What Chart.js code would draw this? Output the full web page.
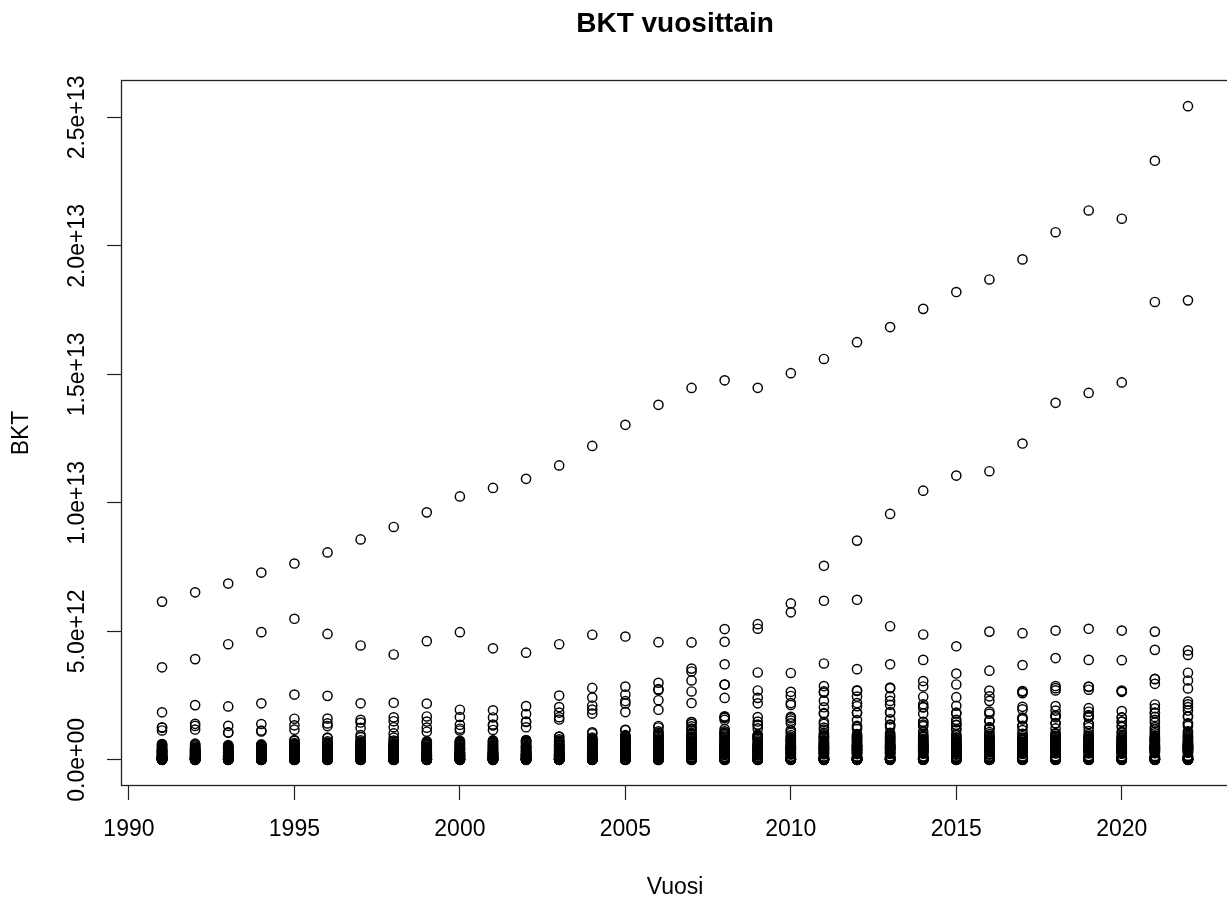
<!DOCTYPE html>
<html>
<head>
<meta charset="utf-8">
<title>BKT vuosittain</title>
<script src="https://cdn.jsdelivr.net/npm/chart.js@4"></script>
<style>
  html, body { margin: 0; padding: 0; background: #fff; overflow: hidden; }
</style>
</head>
<body>
<canvas id="kaavio" width="1240" height="904"></canvas>
<script>
// arvot miljardeina dollareina
const vuodet = [1991, 1992, 1993, 1994, 1995, 1996, 1997, 1998, 1999, 2000, 2001, 2002, 2003, 2004, 2005, 2006,
  2007, 2008, 2009, 2010, 2011, 2012, 2013, 2014, 2015, 2016, 2017, 2018, 2019, 2020, 2021, 2022];

const usa = [6158, 6520, 6859, 7287, 7640, 8073, 8578, 9063, 9631, 10251, 10582, 10936, 11458, 12217, 13039, 13816,
  14474, 14770, 14478, 15049, 15600, 16254, 16843, 17551, 18206, 18695, 19477, 20533, 21381, 21060, 23315, 25440];
const kiina = [383, 427, 445, 564, 734, 864, 962, 1029, 1094, 1211, 1339, 1471, 1660, 1955, 2286, 2752,
  3550, 4594, 5102, 6087, 7552, 8532, 9570, 10476, 11062, 11233, 12310, 13895, 14280, 14688, 17820, 17882];
const japani = [3600, 3920, 4500, 4970, 5490, 4900, 4450, 4100, 4620, 4968, 4340, 4170, 4500, 4870, 4800, 4580,
  4570, 5090, 5280, 5740, 6190, 6230, 5200, 4880, 4420, 4990, 4930, 5030, 5100, 5030, 4990, 4260];
const saksa = [1850, 2130, 2080, 2200, 2540, 2490, 2200, 2220, 2190, 1950, 1930, 2090, 2500, 2800, 2850, 3000,
  3440, 3720, 3400, 3380, 3750, 3530, 3720, 3890, 3360, 3470, 3690, 3960, 3890, 3880, 4280, 4085];
const britannia = [1142, 1179, 1061, 1140, 1344, 1419, 1560, 1653, 1688, 1666, 1649, 1785, 2054, 2422, 2543, 2709,
  3090, 2929, 2412, 2485, 2664, 2707, 2785, 3065, 2933, 2695, 2676, 2872, 2851, 2697, 3141, 3089];
const ranska = [1270, 1402, 1323, 1394, 1601, 1605, 1452, 1503, 1492, 1362, 1377, 1494, 1840, 2116, 2196, 2320,
  2660, 2930, 2700, 2646, 2870, 2683, 2811, 2856, 2439, 2472, 2595, 2790, 2729, 2647, 2958, 2780];
const italia = [1250, 1320, 1067, 1104, 1174, 1313, 1242, 1270, 1253, 1142, 1162, 1267, 1570, 1801, 1858, 1948,
  2211, 2410, 2200, 2136, 2295, 2087, 2141, 2162, 1836, 1877, 1962, 2092, 2011, 1897, 2155, 2050];
const intia = [270, 288, 279, 327, 360, 393, 416, 421, 458, 468, 485, 515, 608, 709, 820, 940,
  1217, 1199, 1342, 1676, 1823, 1828, 1857, 2039, 2104, 2295, 2651, 2703, 2836, 2672, 3150, 3390];
const brasilia = [602, 400, 438, 558, 769, 850, 883, 864, 599, 655, 559, 507, 558, 669, 892, 1108,
  1397, 1696, 1667, 2209, 2616, 2465, 2473, 2456, 1802, 1796, 2064, 1917, 1873, 1476, 1670, 1920];
const kanada = [612, 594, 579, 579, 605, 630, 654, 634, 678, 744, 739, 760, 896, 1026, 1173, 1319,
  1468, 1553, 1375, 1617, 1793, 1828, 1847, 1806, 1556, 1528, 1649, 1725, 1743, 1655, 2007, 2162];
const venaja = [518, 460, 435, 395, 395, 392, 405, 271, 196, 260, 307, 345, 430, 591, 764, 990,
  1300, 1661, 1223, 1525, 2046, 2208, 2292, 2059, 1363, 1277, 1574, 1657, 1693, 1489, 1837, 2266];
const korea = [330, 356, 392, 463, 566, 610, 570, 383, 497, 576, 547, 627, 703, 793, 934, 1053,
  1172, 1047, 944, 1144, 1253, 1278, 1370, 1484, 1466, 1500, 1623, 1725, 1651, 1644, 1818, 1674];
const espanja = [575, 630, 525, 529, 612, 642, 590, 619, 635, 598, 628, 709, 907, 1069, 1157, 1260,
  1474, 1631, 1491, 1422, 1480, 1324, 1355, 1371, 1196, 1233, 1312, 1421, 1394, 1277, 1447, 1418];
const australia = [326, 325, 312, 323, 368, 401, 436, 399, 389, 416, 379, 395, 467, 614, 694, 747,
  853, 1055, 928, 1148, 1398, 1547, 1577, 1468, 1351, 1208, 1326, 1428, 1392, 1327, 1553, 1693];
const meksiko = [314, 363, 501, 527, 360, 411, 500, 527, 600, 708, 756, 772, 729, 782, 877, 975,
  1053, 1109, 900, 1058, 1180, 1201, 1274, 1315, 1172, 1078, 1159, 1222, 1269, 1090, 1273, 1414];
const indonesia = [116, 128, 158, 177, 202, 227, 215, 95, 140, 165, 160, 196, 235, 257, 286, 365,
  432, 510, 540, 755, 893, 918, 913, 891, 861, 932, 1016, 1043, 1119, 1059, 1187, 1319];
const alankomaat = [320, 350, 340, 366, 452, 451, 417, 436, 447, 413, 429, 467, 577, 658, 686, 733,
  848, 953, 870, 847, 905, 839, 877, 892, 766, 784, 834, 914, 910, 909, 1029, 1009];

// muut maat vuosittain (1991 ... 2022)
const muut = [
  [0.4, 1, 2, 3, 4.5, 6, 8, 10, 13, 16, 20, 25, 30, 35, 40, 46, 50, 53, 63, 75, 86, 92, 98, 105, 120, 126, 137, 150, 160, 173, 190, 215, 235, 257, 270, 300, 340, 360, 400, 430, 460, 490, 540],
  [0.4, 1, 2, 3, 4.5, 6, 8, 10, 13, 16, 20, 25, 30, 35, 41, 47, 53, 58, 73, 84, 94, 100, 108, 111, 115, 130, 137, 150, 159, 175, 195, 210, 229, 232, 250, 270, 280, 300, 320, 380, 410, 430, 480, 520, 560],
  [0.4, 1, 2, 3, 4.5, 6, 8, 10, 13, 16, 20, 25, 30, 36, 42, 48, 54, 60, 75, 87, 94, 96, 108, 116, 120, 125, 133, 141, 160, 180, 190, 208, 220, 237, 260, 280, 300, 360, 380, 410, 470, 490, 540],
  [0.4, 1, 2, 3, 4.5, 6, 8, 10, 13, 16, 20, 25, 31, 37, 43, 49, 56, 62, 73, 80, 87, 99, 100, 110, 119, 127, 130, 135, 140, 144, 155, 180, 204, 226, 238, 257, 290, 300, 345, 370, 410, 440, 490, 545, 600],
  [0.4, 1, 2, 3, 4.5, 6, 8, 10, 13, 16, 21, 26, 32, 38, 44, 51, 58, 65, 77, 87, 89, 100, 110, 118, 131, 137, 143, 144, 151, 152, 169, 170, 185, 210, 239, 258, 266, 287, 310, 342, 360, 400, 430, 480, 510, 540, 590, 650],
  [0.4, 1, 2, 3, 4.5, 6, 8, 10, 13, 17, 21, 26, 32, 38, 45, 52, 59, 66, 79, 90, 100, 105, 115, 121, 140, 145, 152, 158, 160, 165, 181, 184, 190, 210, 237, 268, 277, 282, 330, 350, 370, 420, 470, 520, 560, 590, 660, 720],
  [0.4, 1, 2, 3, 4.5, 6, 8, 10, 13, 17, 21, 26, 32, 38, 45, 52, 59, 67, 80, 92, 100, 110, 117, 122, 147, 150, 160, 165, 171, 177, 190, 206, 228, 250, 265, 270, 293, 310, 350, 380, 440, 470, 520, 540, 610, 700, 760],
  [0.4, 1, 2, 3, 4.5, 6, 8, 10, 13, 17, 21, 26, 32, 38, 45, 52, 59, 67, 72, 82, 92, 100, 113, 120, 137, 143, 145, 150, 170, 176, 190, 212, 235, 256, 273, 275, 299, 320, 350, 370, 400, 470, 490, 550, 580, 700, 750],
  [0.4, 1, 2, 3, 4.5, 6, 8, 10, 13, 17, 21, 26, 32, 38, 45, 52, 60, 68, 80, 86, 98, 107, 123, 126, 137, 160, 163, 168, 172, 180, 188, 211, 230, 250, 262, 279, 283, 300, 340, 360, 420, 480, 520, 560, 680, 720],
  [0.4, 1, 2, 3, 4.5, 6, 8, 10, 13, 17, 21, 27, 33, 39, 46, 53, 61, 69, 94, 100, 104, 118, 126, 133, 136, 170, 171, 172, 187, 197, 200, 232, 258, 262, 272, 274, 284, 300, 340, 360, 380, 440, 470, 500, 540, 630, 690],
  [0.4, 1, 2, 3, 4.5, 6, 8, 10, 13, 17, 21, 27, 33, 39, 46, 54, 62, 70, 93, 104, 108, 120, 121, 127, 142, 169, 171, 172, 183, 196, 200, 232, 233, 253, 257, 269, 280, 300, 320, 360, 390, 450, 500, 580, 660, 690],
  [0.4, 1, 2, 3, 4.5, 6, 8, 10, 13, 17, 22, 27, 33, 40, 47, 55, 63, 72, 98, 102, 116, 123, 128, 135, 143, 166, 177, 190, 192, 196, 211, 237, 248, 276, 300, 314, 330, 370, 420, 440, 490, 540, 580, 650, 690, 740],
  [0.4, 1, 2, 3, 5, 6.5, 8.5, 11, 14, 18, 23, 29, 35, 42, 50, 58, 67, 77, 110, 112, 128, 131, 155, 172, 178, 190, 208, 217, 219, 237, 282, 295, 314, 315, 352, 360, 380, 400, 430, 480, 520, 560, 600, 660, 740, 800],
  [0.4, 1, 2, 3, 5, 7, 9, 12, 15, 19, 24, 30, 37, 45, 53, 62, 72, 83, 120, 122, 137, 152, 170, 190, 220, 228, 230, 250, 258, 268, 314, 362, 368, 392, 405, 420, 450, 480, 520, 550, 600, 640, 700, 740, 830, 870],
  [0.4, 1.1, 2.2, 3.4, 5.5, 7.5, 10, 13, 16, 20, 26, 32, 40, 48, 57, 67, 78, 90, 140, 143, 154, 169, 181, 189, 230, 247, 250, 262, 265, 315, 329, 385, 391, 405, 408, 430, 450, 483, 506, 530, 560, 600, 640, 680, 730, 780, 820, 960],
  [0.4, 1.2, 2.4, 3.7, 6, 8, 11, 14, 18, 22, 28, 35, 43, 52, 62, 73, 85, 98, 146, 155, 162, 184, 204, 208, 222, 261, 275, 284, 308, 345, 377, 378, 399, 409, 430, 465, 490, 510, 530, 558, 600, 640, 680, 720, 800, 850, 900],
  [0.5, 1.3, 2.6, 4, 6.5, 9, 12, 15, 19, 24, 30, 38, 47, 57, 68, 80, 93, 108, 170, 180, 207, 222, 242, 262, 299, 310, 325, 340, 387, 400, 425, 430, 470, 490, 500, 530, 560, 590, 625, 660, 681, 720, 760, 800, 900, 970, 1010],
  [0.5, 1.4, 2.8, 4.3, 7, 10, 13, 16, 21, 26, 33, 41, 51, 62, 74, 87, 102, 118, 180, 214, 229, 254, 284, 287, 315, 345, 352, 355, 380, 410, 430, 450, 470, 485, 515, 520, 540, 555, 580, 610, 640, 700, 730, 764, 800, 846, 900, 1000],
  [0.5, 1.4, 2.8, 4.3, 7, 10, 13, 16, 21, 26, 33, 41, 51, 62, 74, 87, 102, 118, 168, 196, 210, 245, 254, 287, 311, 333, 337, 369, 375, 385, 392, 400, 428, 436, 450, 471, 480, 500, 543, 580, 610, 645, 700, 760, 820, 850, 900, 980],
  [0.5, 1.5, 3, 4.6, 7.5, 10.5, 14, 17, 22, 28, 35, 44, 55, 66, 79, 93, 109, 126, 210, 218, 236, 255, 287, 289, 340, 341, 375, 388, 418, 420, 425, 450, 470, 476, 489, 500, 528, 560, 584, 620, 650, 700, 730, 777, 820, 900, 960],
  [0.5, 1.6, 3.2, 5, 8, 11, 15, 18, 24, 30, 38, 47, 58, 70, 84, 99, 116, 134, 219, 232, 251, 280, 300, 335, 351, 370, 404, 417, 431, 450, 470, 490, 514, 530, 550, 563, 600, 628, 650, 671, 710, 750, 770, 838, 870, 950, 990, 1050],
  [0.5, 1.6, 3.2, 5, 8, 11, 15, 18, 24, 30, 38, 47, 58, 70, 84, 99, 116, 134, 225, 237, 257, 282, 300, 331, 370, 372, 397, 410, 434, 456, 480, 500, 512, 520, 543, 544, 560, 595, 620, 668, 700, 736, 780, 820, 880, 950, 1000],
  [0.5, 1.7, 3.3, 5.2, 8.3, 11.5, 15.5, 19, 25, 31, 39, 49, 60, 72, 87, 102, 120, 138, 230, 248, 272, 275, 312, 324, 381, 400, 414, 430, 450, 467, 487, 500, 512, 526, 552, 556, 586, 600, 640, 680, 721, 747, 780, 820, 870, 958, 1000, 1050],
  [0.5, 1.7, 3.3, 5.2, 8.3, 11.5, 15.5, 19, 25, 31, 39, 49, 60, 72, 87, 102, 120, 138, 236, 257, 284, 305, 338, 351, 382, 407, 420, 442, 450, 480, 499, 527, 528, 529, 557, 560, 581, 610, 650, 680, 700, 734, 756, 780, 820, 934, 1000, 1100],
  [0.5, 1.6, 3.2, 5, 8, 11, 15, 18, 24, 30, 38, 47, 58, 70, 84, 99, 116, 134, 200, 230, 233, 292, 293, 301, 314, 347, 357, 383, 385, 387, 401, 420, 440, 462, 478, 495, 495, 520, 550, 580, 594, 620, 650, 669, 702, 730, 800, 864, 950, 1000],
  [0.5, 1.6, 3.2, 5, 8, 11, 15, 18, 24, 30, 38, 47, 58, 70, 84, 99, 116, 134, 206, 207, 236, 296, 304, 318, 342, 357, 369, 385, 395, 412, 413, 430, 445, 470, 470, 476, 500, 520, 557, 600, 640, 670, 695, 720, 750, 820, 870, 920, 1000],
  [0.5, 1.7, 3.3, 5.2, 8.3, 11.5, 15.5, 19, 25, 31, 39, 49, 60, 72, 87, 102, 120, 138, 230, 243, 260, 311, 325, 332, 341, 382, 390, 404, 415, 432, 440, 456, 470, 484, 501, 504, 525, 540, 570, 600, 630, 655, 692, 705, 760, 780, 820, 859, 920, 1000],
  [0.5, 1.7, 3.4, 5.4, 8.6, 12, 16, 20, 26, 32, 41, 51, 62, 75, 90, 106, 124, 143, 245, 275, 302, 334, 356, 365, 368, 389, 410, 422, 439, 455, 458, 466, 480, 500, 519, 523, 537, 543, 560, 587, 620, 650, 680, 725, 736, 760, 779, 800, 846, 880, 930, 1000],
  [0.5, 1.8, 3.5, 5.5, 8.8, 12, 16, 20, 26, 33, 42, 52, 63, 77, 92, 108, 127, 146, 250, 281, 304, 334, 351, 364, 379, 388, 402, 405, 418, 448, 454, 462, 465, 480, 500, 531, 533, 560, 595, 610, 650, 680, 721, 751, 761, 780, 820, 838, 880, 930, 1000],
  [0.5, 1.7, 3.3, 5.2, 8.3, 11.5, 15.5, 19, 25, 31, 39, 49, 60, 72, 87, 102, 120, 138, 240, 253, 286, 295, 303, 337, 340, 345, 361, 374, 383, 385, 386, 425, 433, 460, 480, 500, 520, 542, 560, 599, 620, 650, 680, 703, 720, 732, 760, 800, 840, 870, 950],
  [0.5, 1.8, 3.6, 5.7, 9, 12.5, 17, 21, 27, 34, 43, 54, 66, 80, 95, 112, 131, 151, 260, 283, 314, 327, 348, 366, 369, 400, 405, 417, 424, 440, 450, 480, 487, 491, 505, 506, 530, 560, 594, 610, 640, 679, 720, 740, 760, 800, 813, 840, 868, 900, 950, 1100],
  [0.5, 1.9, 3.8, 6, 9.5, 13, 18, 22, 29, 36, 46, 57, 70, 85, 101, 119, 139, 160, 280, 300, 302, 344, 373, 381, 405, 408, 422, 440, 460, 467, 471, 474, 478, 507, 520, 540, 546, 579, 589, 600, 620, 632, 660, 690, 740, 760, 818, 860, 906, 940, 1060, 1108]
];

const xTicks = [1990, 1995, 2000, 2005, 2010, 2015, 2020];
const yTicks = [0, 5e12, 1e13, 1.5e13, 2e13, 2.5e13];
const yTickLabels = ["0.0e+00", "5.0e+12", "1.0e+13", "1.5e+13", "2.0e+13", "2.5e+13"];

const maat = [usa, kiina, japani, saksa, britannia, ranska, italia, intia, brasilia, kanada,
  venaja, korea, espanja, australia, meksiko, indonesia, alankomaat];

const pisteet = [];
maat.forEach(function (sarja) {
  sarja.forEach(function (v, i) {
    pisteet.push({ x: vuodet[i], y: v * 1e9 });
  });
});
muut.forEach(function (lista, i) {
  lista.forEach(function (v) {
    pisteet.push({ x: vuodet[i], y: v * 1e9 });
  });
});

const fontti = "'Liberation Sans', Arial, sans-serif";

// R:n plot()-laatikko
const laatikko = {
  id: "laatikko",
  afterDatasetsDraw(chart) {
    const a = chart.chartArea;
    const c = chart.ctx;
    c.save();
    c.strokeStyle = "#222";
    c.lineWidth = 1.3;
    c.strokeRect(Math.round(a.left) + 0.5, Math.round(a.top) + 0.5,
      Math.round(a.right - a.left), Math.round(a.bottom - a.top) - 1);
    c.restore();
  }
};

new Chart(document.getElementById("kaavio"), {
  type: "scatter",
  data: {
    datasets: [{
      data: pisteet,
      pointStyle: "circle",
      pointRadius: 4.6,
      pointHoverRadius: 4.6,
      borderWidth: 1.45,
      borderColor: "#000",
      backgroundColor: "rgba(0,0,0,0)"
    }]
  },
  options: {
    responsive: false,
    animation: false,
    devicePixelRatio: 1,
    layout: { padding: { top: 0, right: 11, bottom: 0, left: 0 } },
    plugins: {
      legend: { display: false },
      tooltip: { enabled: false },
      title: {
        display: true,
        text: "BKT vuosittain",
        fullSize: false,
        color: "#000",
        font: { family: fontti, size: 28, weight: "bold" },
        padding: { top: 7, bottom: 39.4 }
      }
    },
    scales: {
      x: {
        type: "linear",
        min: 1989.76,
        max: 2023.24,
        afterFit: function (s) { s.height = 118; },
        afterBuildTicks: function (s) { s.ticks = xTicks.map(function (v) { return { value: v }; }); },
        grid: { display: true, drawOnChartArea: false, drawTicks: true, tickLength: 14, tickColor: "#222", tickWidth: 1.2 },
        border: { display: false },
        ticks: {
          color: "#000",
          font: { family: fontti, size: 23 },
          padding: 16,
          autoSkip: false,
          maxRotation: 0,
          callback: function (v) { return String(v); }
        },
        title: {
          display: true,
          text: "Vuosi",
          color: "#000",
          font: { family: fontti, size: 23 },
          padding: { top: 0, bottom: 3 }
        }
      },
      y: {
        type: "linear",
        min: -1.018e12,
        max: 2.6458e13,
        afterFit: function (s) { s.width = 121; },
        afterBuildTicks: function (s) { s.ticks = yTicks.map(function (v) { return { value: v }; }); },
        grid: { display: true, drawOnChartArea: false, drawTicks: true, tickLength: 14, tickColor: "#222", tickWidth: 1.2 },
        border: { display: false },
        ticks: {
          color: "#000",
          font: { family: fontti, size: 23 },
          autoSkip: false,
          minRotation: 90,
          maxRotation: 90,
          crossAlign: "center",
          padding: -13,
          callback: function (v) { return yTickLabels[yTicks.indexOf(v)]; }
        },
        title: {
          display: true,
          text: "BKT",
          color: "#000",
          font: { family: fontti, size: 23 },
          padding: { top: 8, bottom: 0 }
        }
      }
    }
  },
  plugins: [laatikko]
});
</script>
</body>
</html>
